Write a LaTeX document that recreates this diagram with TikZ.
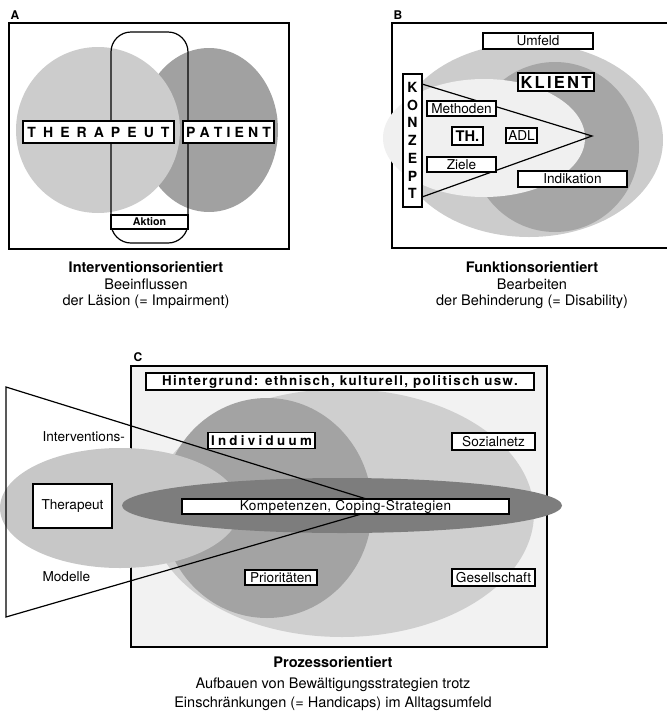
\documentclass[tikz,border=0pt]{standalone}
\usepackage{fontspec}
\setmainfont{TeX Gyre Heros}
\newfontfamily\spacedA[LetterSpace=3]{TeX Gyre Heros}
\newfontfamily\spacedB[LetterSpace=10.5]{TeX Gyre Heros}
\definecolor{aLight}{gray}{0.80}
\definecolor{aDark}{gray}{0.63}
\definecolor{bOuter}{gray}{0.80}
\definecolor{bKlient}{gray}{0.65}
\definecolor{bInner}{gray}{0.94}
\definecolor{cBg}{gray}{0.95}
\definecolor{cOuter}{gray}{0.81}
\definecolor{cIndiv}{gray}{0.64}
\definecolor{cTher}{gray}{0.78}
\definecolor{cKomp}{gray}{0.49}
\begin{document}
\begin{tikzpicture}[x=0.75pt,y=-0.75pt,line width=0.9pt,
  box/.style={draw=black,fill=white,inner sep=0pt,font=\fontsize{10.2}{12}\selectfont},
  boldbox/.style={box,font=\fontsize{10.5}{12}\selectfont\bfseries},
  plabel/.style={anchor=west,inner sep=0pt,font=\fontsize{9}{10}\selectfont\bfseries},
  capb/.style={inner sep=0pt,font=\fontsize{10.9}{13}\selectfont\bfseries},
  capn/.style={inner sep=0pt,font=\fontsize{10.9}{13}\selectfont},
  side/.style={anchor=west,inner sep=0pt,font=\fontsize{10.2}{12}\selectfont}]
\useasboundingbox (0,0) rectangle (667,711);

% ---------------- Panel A ----------------
\node[plabel] (labA) at (10,15) {A};
\draw (9,23) rectangle (289,249);
\fill[aDark] (209,130) ellipse [x radius=69, y radius=82];
\fill[aLight] (98,130) ellipse [x radius=82, y radius=83];
\draw[rounded corners=15pt] (111,32) rectangle (188,243);
\node[box,font=\fontsize{8}{9}\selectfont\bfseries,minimum width=57.75pt,minimum height=10.5pt] (aktion) at (149.5,222) {Aktion};
\node[boldbox,minimum width=113.25pt,minimum height=16.5pt] (therA) at (98.5,132)
  {\makebox[106.5pt][s]{T\hfill H\hfill E\hfill R\hfill A\hfill P\hfill E\hfill U\hfill T}};
\node[boldbox,minimum width=68.25pt,minimum height=16.5pt] (patA) at (228.5,132)
  {\makebox[63.75pt][s]{P\hfill A\hfill T\hfill I\hfill E\hfill N\hfill T}};
\node[capb] (capA1) at (146,267) {Interventionsorientiert};
\node[capn] (capA2) at (146,284) {Beeinflussen};
\node[capn] (capA3) at (146,302) {der Läsion (= Impairment)};

% ---------------- Panel B ----------------
\node[plabel] (labB) at (393,15) {B};
\draw (667,23) -- (392,23) -- (392,248) -- (667,248);
\fill[bOuter] (529,140) ellipse [x radius=134, y radius=97];
\fill[bKlient] (555,147) ellipse [x radius=84, y radius=85];
\fill[bInner] (484,138) ellipse [x radius=101, y radius=59];
\coordinate (apexB) at (592,136);
\coordinate (kt) at (422,84);
\coordinate (kb) at (422,197);
\draw (kt) -- (apexB) -- (kb);
\node[boldbox,align=center,font=\fontsize{10.5}{13.3}\selectfont\bfseries,minimum width=14.25pt,minimum height=99.75pt] (konz) at (412.5,140.5)
  {K\\O\\N\\Z\\E\\P\\T};
\node[box,minimum width=82.5pt,minimum height=12pt] (umfeld) at (538,41) {Umfeld};
\node[box,font=\fontsize{12.4}{14}\selectfont\bfseries,minimum width=57pt,minimum height=13.5pt] (klient) at (556,82)
  {\makebox[53.25pt][s]{K\hfill L\hfill I\hfill E\hfill N\hfill T}};
\node[box,minimum width=51.75pt,minimum height=11.25pt] (meth) at (461.5,108.5) {Methoden};
\node[box,font=\fontsize{11}{12}\selectfont\bfseries,minimum width=23.25pt,minimum height=13.5pt] (th) at (467.5,136) {TH.};
\node[box,minimum width=23.25pt,minimum height=11.25pt] (adl) at (521.5,135.5) {ADL};
\node[box,minimum width=51.75pt,minimum height=11.25pt] (ziele) at (461.5,164.5) {Ziele};
\node[box,minimum width=81.75pt,minimum height=12pt] (indik) at (572.5,179) {Indikation};
\node[capb] (capB1) at (532,267) {Funktionsorientiert};
\node[capn] (capB2) at (532,284) {Bearbeiten};
\node[capn] (capB3) at (532,302) {der Behinderung (= Disability)};

% ---------------- Panel C ----------------
\node[plabel] (labC) at (133,357) {C};
\draw[fill=cBg] (131,366) rectangle (547,647);
\fill[cOuter] (342,513) ellipse [x radius=192, y radius=124];
\fill[cIndiv] (267,508) ellipse [x radius=105, y radius=110];
\fill[cTher] (120,508) ellipse [x radius=120, y radius=60];
\fill[cKomp] (342,505.5) ellipse [x radius=220, y radius=27.5];
\node[box,font=\fontsize{10}{12}\selectfont\bfseries\spacedB,minimum width=291pt,minimum height=12.75pt] (hint) at (340,381.5)
  {Hintergrund: ethnisch, kulturell, politisch usw.};
\coordinate (tt) at (6,387);
\coordinate (tb) at (6,617);
\coordinate (apexC) at (389,506);
\draw (apexC) -- (tt) -- (tb) -- (apexC);
\node[box,font=\fontsize{10.2}{12}\selectfont\spacedA,minimum width=245.25pt,minimum height=11.25pt] (komp) at (345.5,506.5)
  {Kompetenzen, Coping-Strategien};
\node[box,minimum width=59.25pt,minimum height=33pt] (therC) at (72.5,506) {Therapeut};
\node[box,font=\fontsize{10}{12}\selectfont\bfseries,minimum width=80.25pt,minimum height=12pt] (indiv) at (261.5,440.5)
  {\makebox[75.75pt][s]{I\hfill n\hfill d\hfill i\hfill v\hfill i\hfill d\hfill u\hfill u\hfill m}};
\node[box,minimum width=54pt,minimum height=11.25pt] (prio) at (281,577.5) {Prioritäten};
\node[box,minimum width=62.25pt,minimum height=12.75pt] (sozial) at (493.5,441.5) {Sozialnetz};
\node[box,minimum width=62.25pt,minimum height=12.75pt] (gesell) at (493.5,577.5) {Gesellschaft};
\node[side] (interv) at (42,437) {Interventions-};
\node[side] (modelle) at (42,577) {Modelle};
\node[capb] (capC1) at (333,662) {Prozessorientiert};
\node[capn] (capC2) at (333,685) {Aufbauen von Bewältigungsstrategien trotz};
\node[capn] (capC3) at (333,704) {Einschränkungen (= Handicaps) im Alltagsumfeld};
\end{tikzpicture}
\end{document}
